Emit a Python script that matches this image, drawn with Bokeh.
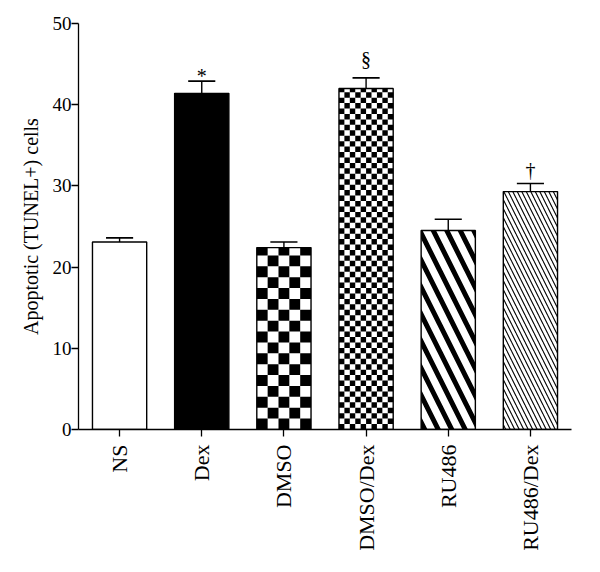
from bokeh.plotting import figure
from bokeh.models import ColumnDataSource, FactorRange, FixedTicker
from bokeh.transform import dodge
from bokeh.core.properties import value
from bokeh.embed import file_html
from bokeh.resources import INLINE
import math

# ---- data ----
categories = ["NS", "Dex", "DMSO", "DMSO/Dex", "RU486", "RU486/Dex"]
means = [23.1, 41.4, 22.4, 42.0, 24.5, 29.3]
errors = [0.5, 1.5, 0.7, 1.3, 1.4, 1.0]
marks = ["", "*", "", "§", "", "†"]
y_ticks = [0, 10, 20, 30, 40, 50]

# ---- styling per bar ----
BAR_W = 0.66
fills = ["white", "black", "white", "white", "white", "white"]
patterns = [" ", " ", " ", " ", "left_diagonal_line", "left_diagonal_line"]
hscales = [12, 12, 12, 12, 27, 9]
hweights = [1, 1, 1, 1, 5, 1.1]
mark_gap = [0, 0.6, 0, 2.3, 0, 1.7]   # vertical gap of each mark above its cap
# checkerboard styling: (bar index, columns across bar, cell height in y units)
checkers = [(2, 5, 1.34), (3, 10, 0.67)]

FONT = "Liberation Serif"

src = ColumnDataSource(dict(
    x=categories, top=means, err_top=[m + e for m, e in zip(means, errors)],
    fill=fills, pat=patterns, hs=hscales, hw=hweights,
))

p = figure(width=584, height=556, x_range=FactorRange(*categories, range_padding=0),
           y_range=(0, 50), output_backend="svg", toolbar_location=None,
           min_border_left=78, min_border_top=23, min_border_bottom=127,
           min_border_right=13)
p.outline_line_color = None
p.xgrid.grid_line_color = None
p.ygrid.grid_line_color = None

p.vbar(x="x", top="top", bottom=0, width=BAR_W, source=src,
       fill_color="fill", line_color=None,
       hatch_pattern="pat", hatch_scale="hs", hatch_weight="hw",
       hatch_color="black")

# checkerboard cells for the DMSO bars (decoration derived from bar heights)
L, R, B, T = [], [], [], []
for idx, ncol, ch in checkers:
    left = idx + 0.5 - BAR_W / 2
    cw = BAR_W / ncol
    top = means[idx]
    nrow = int(math.ceil(top / ch))
    for r in range(nrow):
        y0 = r * ch
        y1 = min(top, y0 + ch)
        for c in range(ncol):
            if (c + r) % 2 == 0:
                L.append(left + c * cw)
                R.append(left + (c + 1) * cw)
                B.append(y0)
                T.append(y1)
p.quad(left=L, right=R, bottom=B, top=T, fill_color="black", line_color=None)

# bar outlines
p.vbar(x="x", top="top", bottom=0, width=BAR_W, source=src,
       fill_color=None, line_color="black", line_width=1.4)

# error bars (upper only)
p.segment(x0="x", y0="top", x1="x", y1="err_top", source=src,
          line_color="black", line_width=1.4)
p.segment(x0=dodge("x", -0.165, range=p.x_range), y0="err_top",
          x1=dodge("x", 0.165, range=p.x_range), y1="err_top", source=src,
          line_color="black", line_width=1.6)

# significance marks
msrc = ColumnDataSource(dict(
    x=[c for c, k in zip(categories, marks) if k],
    y=[m + e + g for m, e, g, k in zip(means, errors, mark_gap, marks) if k],
    t=[k for k in marks if k],
))
p.text(x="x", y="y", text="t", source=msrc, text_font=value(FONT),
       text_font_size="20px", text_align="center", text_baseline="middle",
       text_color="black")

# axes
p.yaxis.ticker = FixedTicker(ticks=y_ticks)
p.yaxis.minor_tick_line_color = None
p.yaxis.axis_label = "Apoptotic (TUNEL+) cells"
p.yaxis.axis_label_text_font = FONT
p.yaxis.axis_label_text_font_style = "normal"
p.yaxis.axis_label_text_font_size = "20px"
p.yaxis.axis_label_text_color = "black"
p.yaxis.axis_label_standoff = 8
for ax in (p.xaxis[0], p.yaxis[0]):
    ax.major_label_text_font = FONT
    ax.major_label_text_color = "black"
    ax.axis_line_color = "black"
    ax.axis_line_width = 1.3
    ax.major_tick_line_color = "black"
    ax.major_tick_line_width = 1.3
    ax.major_tick_in = 0
    ax.major_tick_out = 7
p.yaxis.major_label_text_font_size = "19px"
p.yaxis.major_label_standoff = 0
p.xaxis.major_label_text_font_size = "22px"
p.xaxis.major_label_standoff = 8
p.xaxis.major_label_orientation = math.pi / 2
p.xaxis.minor_tick_line_color = None

open("out.html", "w").write(file_html(p, INLINE))
